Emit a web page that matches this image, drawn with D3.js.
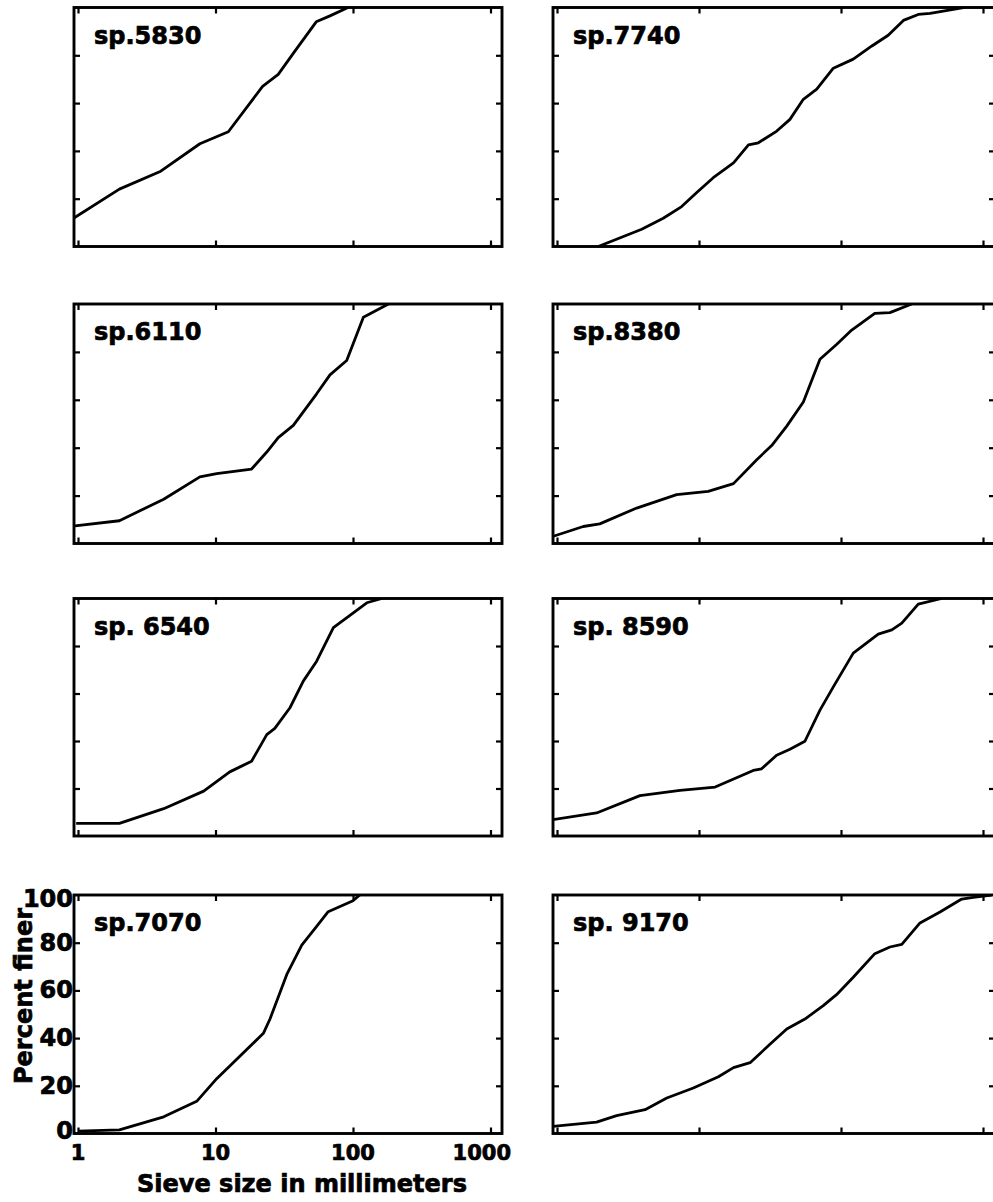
<!DOCTYPE html>
<html><head><meta charset="utf-8">
<script src="https://cdn.jsdelivr.net/npm/d3@7"></script>
<style>
body{margin:0;background:#fff}
svg{display:block}
text{font-family:"DejaVu Sans",sans-serif;font-weight:bold;fill:#000;stroke:#000;stroke-width:0.7px}
</style>
</head><body>
<svg id="c" width="993" height="1202"></svg>
<script>
// ---- data ----
const samples = ["sp.5830","sp.6110","sp. 6540","sp.7070","sp.7740","sp.8380","sp. 8590","sp. 9170"];

const size5830 = [0.94, 2, 4, 7.7, 12.4, 22, 28.6, 37, 54, 68, 92];
const pct5830  = [12, 24, 31.5, 43, 48, 67, 72, 81, 94, 96.5, 100];

const size6110 = [0.95, 2, 4.2, 7.7, 10.2, 18.3, 23.6, 28.6, 36.8, 54.4, 68, 90, 119, 181];
const pct6110  = [7.4, 9.5, 18.5, 27.8, 29.2, 31.1, 38.2, 44.2, 49.3, 62.5, 70.4, 76.4, 94.5, 100];

const size6540 = [0.97, 2, 4.2, 8.2, 12.7, 18.3, 23.6, 27, 34.8, 43.5, 54.4, 72, 126, 162];
const pct6540  = [5.3, 5.3, 11.5, 18.9, 27, 31.5, 42.7, 45.3, 54, 65.2, 73.6, 87.7, 98.2, 100];

const size7070 = [1, 2, 4.2, 7.3, 10.2, 22.3, 24.9, 33, 42.4, 54.4, 66, 100, 112];
const pct7070  = [1, 1.5, 7, 13.5, 23, 42, 48, 66.7, 79, 86.8, 93, 97.6, 100];

const size7740 = [1.95, 3.95, 5.6, 7.55, 9.6, 12.6, 17.5, 22.3, 26.2, 35.3, 43.7, 54.3, 67.5, 88.3, 122, 165, 215, 275, 350, 424, 618, 728];
const pct7740  = [0, 7.2, 11.8, 16.7, 22.5, 28.8, 35, 42.5, 43.4, 48.3, 53.2, 61.6, 65.8, 74.6, 78.4, 83.9, 88.4, 94.6, 97.1, 97.5, 99.2, 100];

const size8380 = [0.93, 1.53, 2, 3.64, 6.96, 11.6, 17.5, 25.5, 32.5, 41.5, 54.3, 71.1, 93, 119, 173, 221, 315];
const pct8380  = [2.9, 7.1, 8.2, 14.8, 20.4, 21.8, 25, 35, 40.9, 49, 59.1, 76.9, 83.1, 89.1, 96.1, 96.4, 100];

const size8590 = [0.93, 1.9, 3.84, 7.35, 13, 24.1, 27.6, 35.2, 43.7, 55.7, 71.1, 88.3, 122, 183, 228, 268, 350, 512];
const pct8590  = [6.9, 9.7, 17, 19.2, 20.6, 27.6, 28.3, 34, 36.5, 39.9, 53, 62.8, 77, 85, 86.8, 89.6, 97.6, 100];

const size9170 = [0.93, 1.9, 2.63, 4.17, 5.93, 9.12, 13.7, 17.5, 22.9, 31.6, 41.5, 55.7, 75, 93, 122, 173, 221, 268, 360, 498, 708, 855, 1148];
const pct9170  = [3, 4.8, 7.5, 10, 14.9, 19.1, 23.8, 27.6, 29.7, 37.4, 43.8, 48, 53.6, 58.2, 65.5, 75.4, 78.2, 79.3, 88.3, 92.9, 98.3, 99, 100];

const sizes = [size5830, size6110, size6540, size7070, size7740, size8380, size8590, size9170];
const pcts  = [pct5830, pct6110, pct6540, pct7070, pct7740, pct8380, pct8590, pct9170];

const xTickValues = [1, 10, 100, 1000];
const xTickLabels = ["1", "10", "100", "1000"];
const yTickValues = [0, 20, 40, 60, 80, 100];
const yTickLabels = ["0", "20", "40", "60", "80", "100"];
const xTitle = "Sieve size in millimeters";
const yTitle = "Percent finer";

// ---- layout ----
const colX = [[78, 490.5], [557, 983]];        // pixel of size 1 and 1000
const colFrame = [[74, 502], [553, 995]];
const rows = [[7.5, 246.5], [304, 543.5], [598.5, 836], [895, 1133.5]];

const svg = d3.select("#c");
const defs = svg.append("defs");

samples.forEach((name, i) => {
  const col = i < 4 ? 0 : 1, row = i % 4;
  const [fx0, fx1] = colFrame[col];
  const [fy0, fy1] = rows[row];
  const x = d3.scaleLog().domain([1, 1000]).range(colX[col]);
  const y = d3.scaleLinear().domain([0, 100]).range([fy1, fy0]);

  const g = svg.append("g");
  const cid = "clip" + i;
  defs.append("clipPath").attr("id", cid).append("rect")
    .attr("x", fx0).attr("y", fy0).attr("width", fx1 - fx0).attr("height", fy1 - fy0);

  // curve
  const pts = sizes[i].map((s, k) => [s, pcts[i][k]]);
  g.append("path").datum(pts)
    .attr("clip-path", `url(#${cid})`)
    .attr("fill", "none").attr("stroke", "#000").attr("stroke-width", 2.8)
    .attr("stroke-linejoin", "round")
    .attr("d", d3.line().x(d => x(d[0])).y(d => y(d[1])));

  // inward ticks
  const tickStyle = sel => {
    sel.select(".domain").remove();
    sel.selectAll(".tick line").attr("stroke", "#000").attr("stroke-width", 2.2);
    sel.selectAll(".tick text").remove();
  };
  g.append("g").attr("transform", `translate(0,${fy1})`)
    .call(d3.axisBottom(x).tickValues(xTickValues).tickSize(-6).tickFormat("")).call(tickStyle);
  g.append("g").attr("transform", `translate(0,${fy0})`)
    .call(d3.axisTop(x).tickValues(xTickValues).tickSize(-6).tickFormat("")).call(tickStyle);
  const innerY = yTickValues.filter(v => v > 0 && v < 100);
  g.append("g").attr("transform", `translate(${fx0},0)`)
    .call(d3.axisLeft(y).tickValues(innerY).tickSize(-6).tickFormat("")).call(tickStyle);
  g.append("g").attr("transform", `translate(${fx1},0)`)
    .call(d3.axisRight(y).tickValues(innerY).tickSize(-6).tickFormat("")).call(tickStyle);

  // frame
  g.append("rect").attr("x", fx0).attr("y", fy0)
    .attr("width", fx1 - fx0).attr("height", fy1 - fy0)
    .attr("fill", "none").attr("stroke", "#000").attr("stroke-width", 2.9);

  // sample label
  g.append("text").attr("x", fx0 + 20).attr("y", fy0 + 36)
    .attr("font-size", 24).text(name);

  // axis labels only on bottom-left panel
  if (i === 3) {
    const xl = g.append("g");
    xTickValues.forEach((v, k) => {
      const last = k === xTickValues.length - 1;
      xl.append("text")
        .attr("x", last ? fx1 + 9 : x(v))
        .attr("y", fy1 + 26)
        .attr("text-anchor", last ? "end" : "middle")
        .attr("font-size", 21).text(xTickLabels[k]);
    });
    yTickValues.forEach((v, k) => {
      const dy = v === 100 ? 4 : (v === 0 ? -3 : 0);
      g.append("text")
        .attr("x", fx0 - 1).attr("y", y(v) + dy)
        .attr("text-anchor", "end").attr("dominant-baseline", "central")
        .attr("font-size", 24).text(yTickLabels[k]);
    });
    g.append("text").attr("x", 302).attr("y", 1192)
      .attr("text-anchor", "middle").attr("font-size", 24).text(xTitle);
    g.append("text")
      .attr("transform", `translate(32,996) rotate(-90)`)
      .attr("text-anchor", "middle").attr("font-size", 24).text(yTitle);
  }
});
</script>
</body></html>
